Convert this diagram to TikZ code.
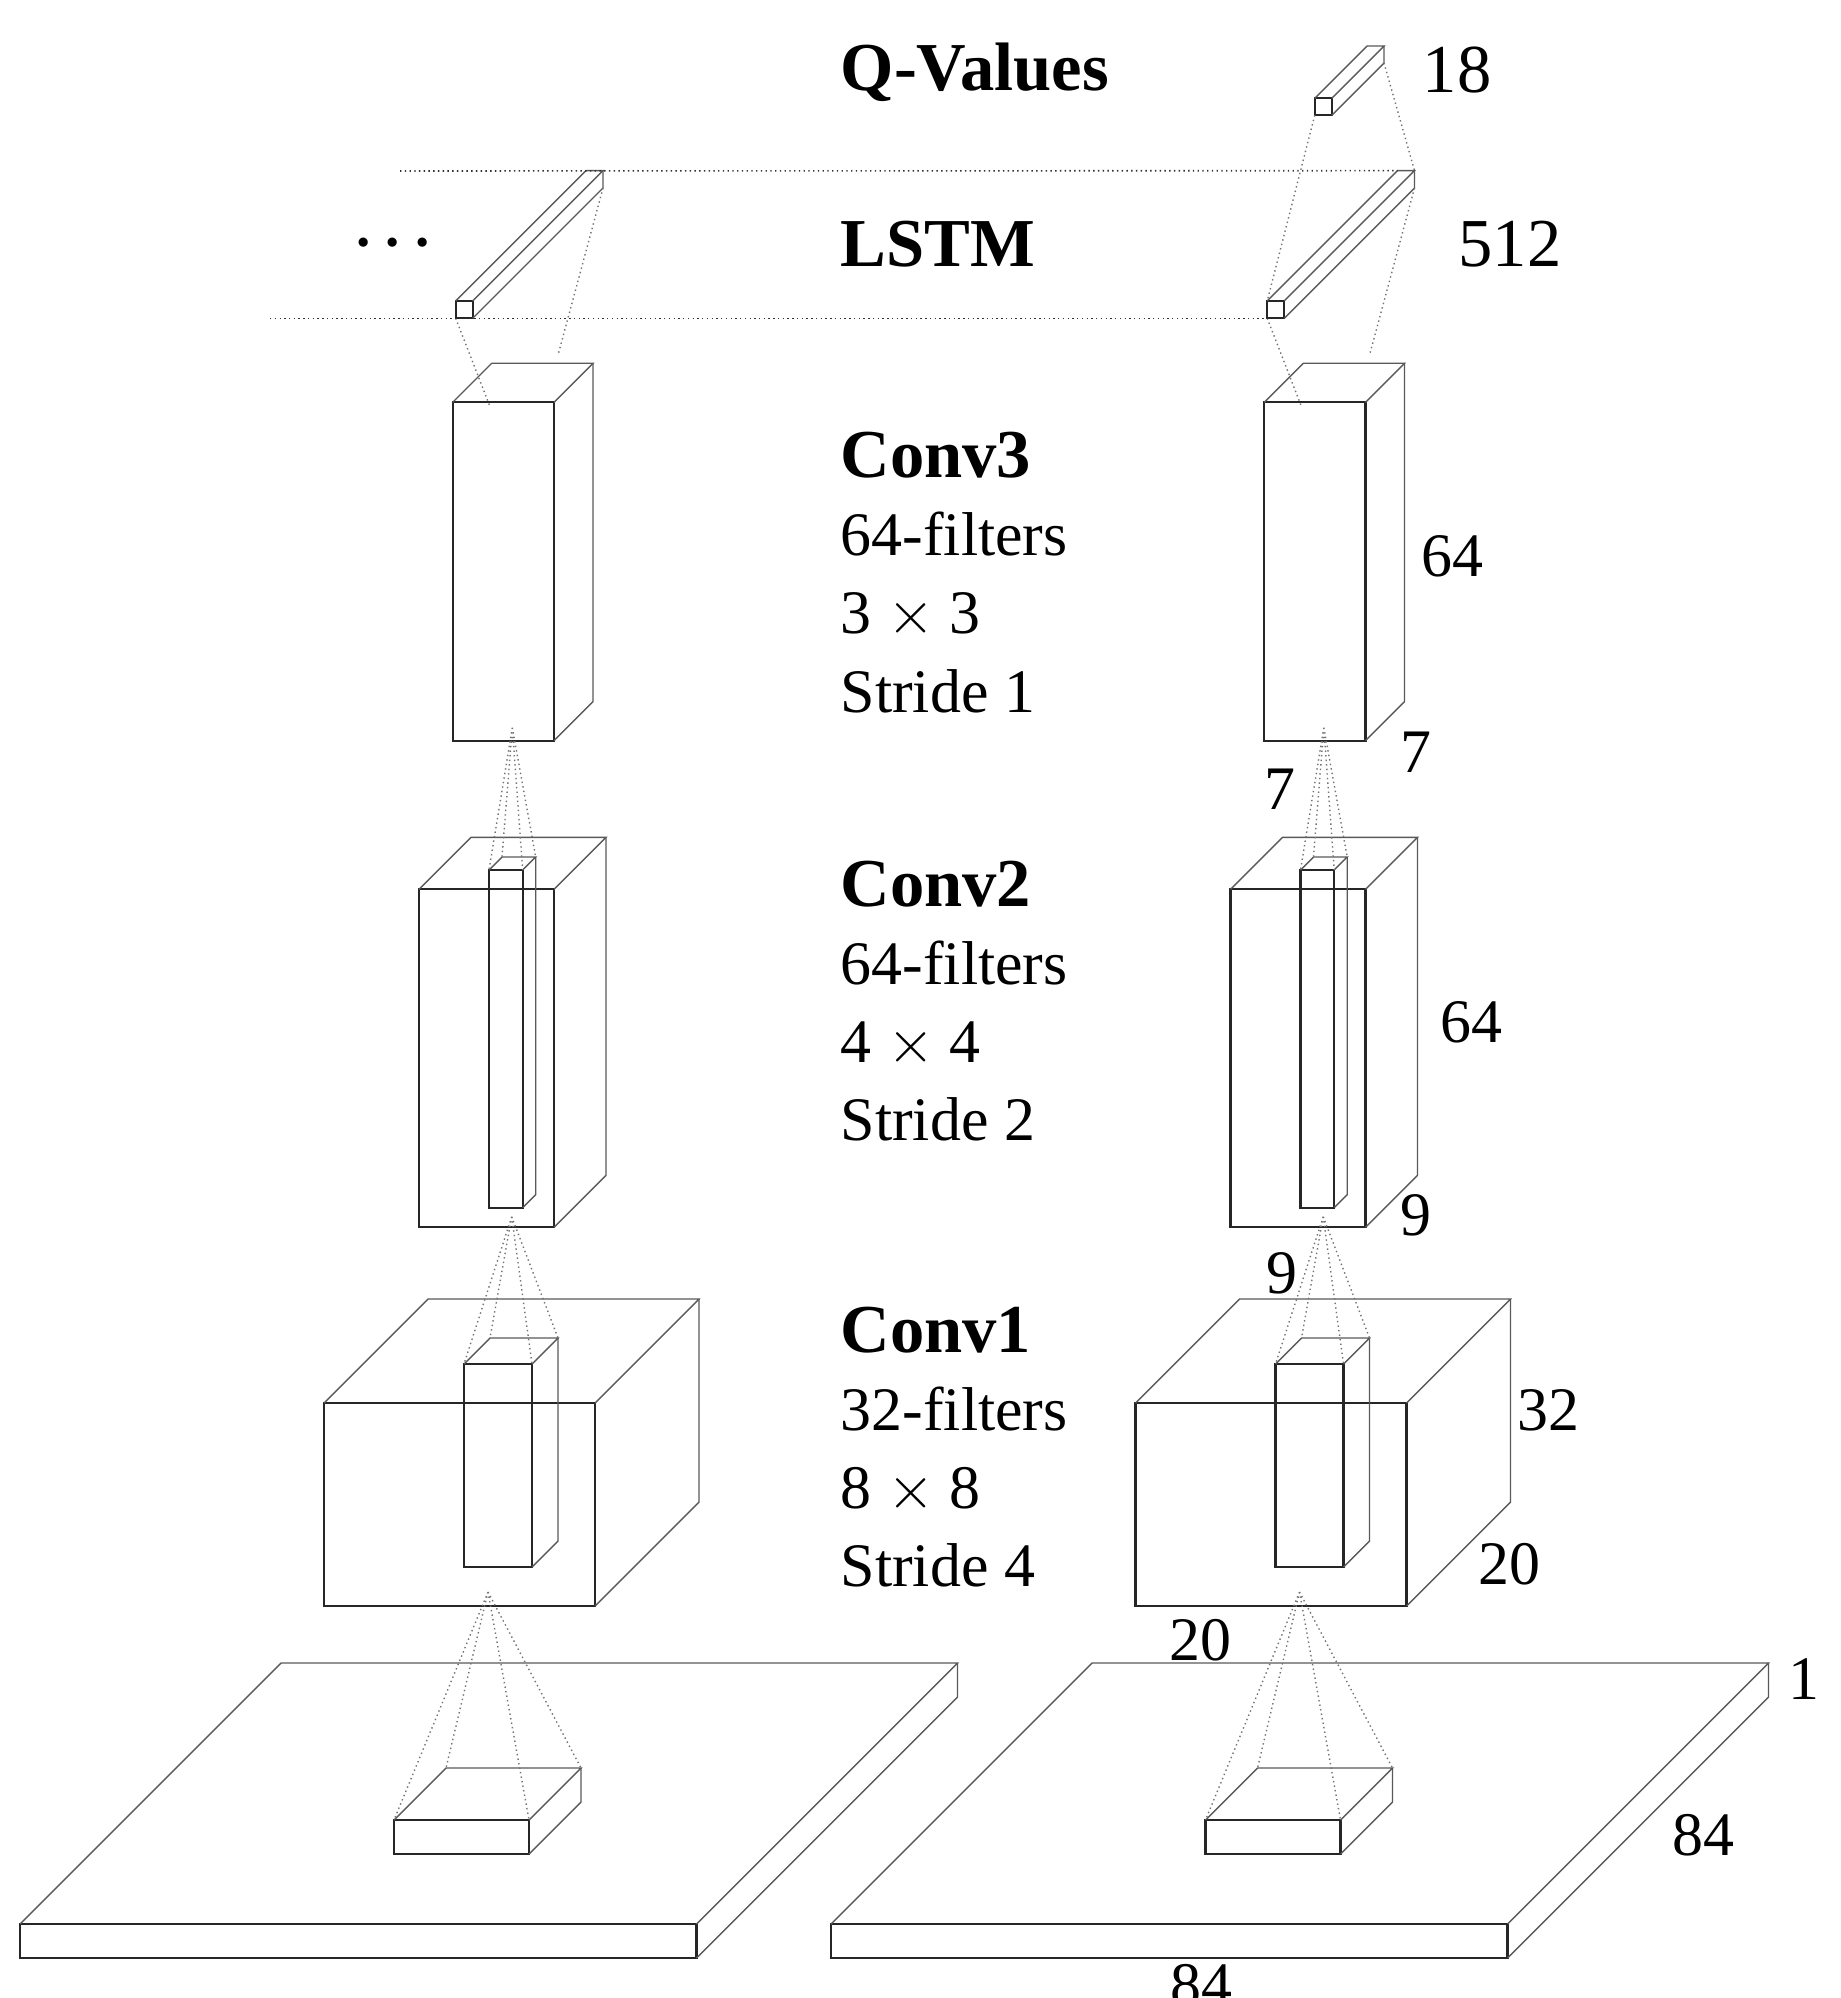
\documentclass[tikz,border=0pt]{standalone}
\usepackage{fontspec}
\setmainfont{Liberation Serif}
\tikzset{
  front edge/.style={line width=0.6pt, black!85},
  back edge/.style={line width=0.4pt, black!65},
  field line/.style={line width=0.4pt, black!55, dash pattern=on 0.4pt off 0.9pt},
  time line/.style={line width=0.45pt, black!80, dash pattern=on 0.4pt off 0.95pt},
  layer title/.style={anchor=base west, inner sep=0pt, font=\fontsize{19.5}{23}\selectfont\bfseries},
  layer text/.style={anchor=base west, inner sep=0pt, font=\fontsize{17.6}{21}\selectfont},
  dim label/.style={anchor=base, inner sep=0pt, font=\fontsize{17.6}{21}\selectfont},
  big dim label/.style={dim label, font=\fontsize{19.5}{23}\selectfont},
}

% box: name, front-left x, front-top y, width, height, depth
\newcommand{\layerbox}[6]{%
  \coordinate (#1-ftl) at (#2,#3);
  \coordinate (#1-ftr) at (#2+#4,#3);
  \coordinate (#1-fbl) at (#2,#3+#5);
  \coordinate (#1-fbr) at (#2+#4,#3+#5);
  \coordinate (#1-btl) at (#2+#6,#3-#6);
  \coordinate (#1-btr) at (#2+#4+#6,#3-#6);
  \coordinate (#1-bbr) at (#2+#4+#6,#3+#5-#6);
  \draw[front edge] (#1-ftl) rectangle (#1-fbr);
  \draw[back edge] (#1-ftl) -- (#1-btl) -- (#1-btr) -- (#1-ftr);
  \draw[back edge] (#1-btr) -- (#1-bbr) -- (#1-fbr);
}

\begin{document}
\begin{tikzpicture}[x=0.01cm, y=-0.01cm]
      \useasboundingbox (0,0) rectangle (1840,1998);
      \clip (0,0) rectangle (1840,1998);

      % left column (earlier time step)
      \layerbox{inL}{20}{1924}{676.5}{34}{261}
      \layerbox{patchL}{394}{1820}{135}{34}{52}
      \layerbox{cA}{324}{1403}{271}{203}{104}
      \layerbox{cAcol}{464}{1364}{68}{203}{26}
      \layerbox{cB}{419}{889.3}{135}{338}{52}
      \layerbox{cBcol}{489}{870}{33.7}{337.7}{13}
      \layerbox{cC}{452.7}{402.3}{101.3}{338.4}{39}
      \layerbox{lstmL}{455.7}{301}{17}{17.3}{130.3}

      % right column (current time step)
      \layerbox{inR}{831}{1924}{676.5}{34}{261}
      \layerbox{patchR}{1205.5}{1820}{135}{34}{52}
      \layerbox{dA}{1135.5}{1403}{271}{203}{104}
      \layerbox{dAcol}{1275.5}{1364}{68}{203}{26}
      \layerbox{dB}{1230.5}{889.3}{135}{338}{52}
      \layerbox{dBcol}{1300.5}{870}{33.7}{337.7}{13}
      \layerbox{dC}{1264.2}{402.3}{101.3}{338.4}{39}
      \layerbox{lstmR}{1267.2}{301}{17}{17.3}{130.3}
      \layerbox{qR}{1314.7}{98.3}{17}{17}{52.3}

      \coordinate (apexAL) at (488,1592);
      \coordinate (apexAR) at (1299.5,1592);
      \coordinate (apexBL) at (511.7,1216.7);
      \coordinate (apexBR) at (1323.2,1216.7);
      \coordinate (apexCL) at (512.3,727.7);
      \coordinate (apexCR) at (1323.8,727.7);
      \coordinate (feedL1) at (490,406.7);
      \coordinate (feedL2) at (558.3,354);
      \coordinate (feedR1) at (1301.5,406.7);
      \coordinate (feedR2) at (1369.8,354);
      \coordinate (topstart) at (400,171);
      \coordinate (botstart) at (270,318.3);

      \draw[field line] (apexAL) -- (patchL-ftl) (apexAL) -- (patchL-btl) (apexAL) -- (patchL-ftr) (apexAL) -- (patchL-btr);
      \draw[field line] (apexAR) -- (patchR-ftl) (apexAR) -- (patchR-btl) (apexAR) -- (patchR-ftr) (apexAR) -- (patchR-btr);
      \draw[field line] (apexBL) -- (cAcol-ftl) (apexBL) -- (cAcol-btl) (apexBL) -- (cAcol-ftr) (apexBL) -- (cAcol-btr);
      \draw[field line] (apexBR) -- (dAcol-ftl) (apexBR) -- (dAcol-btl) (apexBR) -- (dAcol-ftr) (apexBR) -- (dAcol-btr);
      \draw[field line] (apexCL) -- (cBcol-ftl) (apexCL) -- (cBcol-btl) (apexCL) -- (cBcol-ftr) (apexCL) -- (cBcol-btr);
      \draw[field line] (apexCR) -- (dBcol-ftl) (apexCR) -- (dBcol-btl) (apexCR) -- (dBcol-ftr) (apexCR) -- (dBcol-btr);

      \draw[field line] (lstmL-fbl) -- (feedL1);
      \draw[field line] (lstmL-bbr) -- (feedL2);
      \draw[field line] (lstmR-fbl) -- (feedR1);
      \draw[field line] (lstmR-bbr) -- (feedR2);
      \draw[field line] (qR-fbl) -- (lstmR-ftl);
      \draw[field line] (qR-bbr) -- (lstmR-btr);

      \draw[time line] (topstart) -- (lstmR-btl);
      \draw[time line] (botstart) -- (lstmR-fbl);

      \node[dim label, font=\fontsize{24}{28}\selectfont] (dots) at (393,265) {$\cdot$\hspace{1.5pt}$\cdot$\hspace{1.5pt}$\cdot$};

      \node[layer title] (qvalues) at (840,91) {Q-Values};
      \node[layer title] (lstm)    at (840,267) {LSTM};
      \node[layer title] (conv3)   at (840,478) {Conv3};
      \node[layer text]  (conv3f)  at (840,556) {64-filters};
      \node[layer text]  (conv3k)  at (840,634) {3 $\times$ 3};
      \node[layer text]  (conv3s)  at (840,712) {Stride 1};
      \node[layer title] (conv2)   at (840,906) {Conv2};
      \node[layer text]  (conv2f)  at (840,984) {64-filters};
      \node[layer text]  (conv2k)  at (840,1062) {4 $\times$ 4};
      \node[layer text]  (conv2s)  at (840,1140) {Stride 2};
      \node[layer title] (conv1)   at (840,1352) {Conv1};
      \node[layer text]  (conv1f)  at (840,1430) {32-filters};
      \node[layer text]  (conv1k)  at (840,1508) {8 $\times$ 8};
      \node[layer text]  (conv1s)  at (840,1586) {Stride 4};

      \node[big dim label] (n18)  at (1457,93) {18};
      \node[big dim label] (n512) at (1510,267) {512};
      \node[dim label] (n64c) at (1452,577) {64};
      \node[dim label] (n7r)  at (1415.5,772) {7};
      \node[dim label] (n7l)  at (1280,809) {7};
      \node[dim label] (n64b) at (1471,1042) {64};
      \node[dim label] (n9r)  at (1416,1235) {9};
      \node[dim label] (n9l)  at (1281.5,1293) {9};
      \node[dim label] (n32)  at (1548.7,1430) {32};
      \node[dim label] (n20r) at (1509.7,1584) {20};
      \node[dim label] (n20l) at (1200.5,1660) {20};
      \node[dim label] (n1)   at (1804,1699) {1};
      \node[dim label] (n84r) at (1703.7,1855) {84};
      \node[dim label] (n84b) at (1201,2005) {84};
\end{tikzpicture}
\end{document}
